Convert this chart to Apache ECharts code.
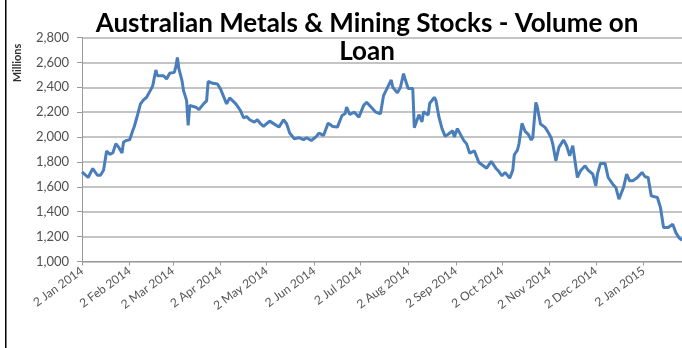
<!DOCTYPE html>
<html>
<head>
<meta charset="utf-8">
<script src="https://cdn.jsdelivr.net/npm/echarts@6/dist/echarts.min.js"></script>
<style>
  html, body { margin: 0; padding: 0; background: #fff; }
  #chart { width: 682px; height: 348px; }
</style>
</head>
<body>
<div id="chart"></div>
<script>
// Shares on loan, Australian metals & mining stocks (millions)
const dates = [
  '2014-01-02','2014-01-03','2014-01-06','2014-01-09','2014-01-12','2014-01-14','2014-01-16','2014-01-18',
  '2014-01-20','2014-01-22','2014-01-24','2014-01-26','2014-01-28','2014-01-29','2014-01-31',
  '2014-02-02','2014-02-04','2014-02-05','2014-02-07','2014-02-09','2014-02-11','2014-02-13','2014-02-16',
  '2014-02-17','2014-02-19','2014-02-20','2014-02-24','2014-02-26','2014-02-28',
  '2014-03-03','2014-03-04','2014-03-05','2014-03-06','2014-03-08','2014-03-09','2014-03-11','2014-03-12',
  '2014-03-13','2014-03-17','2014-03-19','2014-03-22','2014-03-24','2014-03-25','2014-03-28','2014-03-31',
  '2014-04-02','2014-04-06','2014-04-08','2014-04-12','2014-04-15','2014-04-17','2014-04-19','2014-04-21',
  '2014-04-24','2014-04-26','2014-04-28','2014-04-30',
  '2014-05-02','2014-05-04','2014-05-06','2014-05-10','2014-05-13','2014-05-15','2014-05-17','2014-05-20',
  '2014-05-23','2014-05-26','2014-05-28','2014-05-31',
  '2014-06-03','2014-06-05','2014-06-08','2014-06-11','2014-06-14','2014-06-15','2014-06-17','2014-06-20',
  '2014-06-22','2014-06-23','2014-06-25','2014-06-28',
  '2014-07-01','2014-07-04','2014-07-06','2014-07-09','2014-07-12','2014-07-15','2014-07-17','2014-07-19',
  '2014-07-22','2014-07-23','2014-07-26','2014-07-28','2014-07-30','2014-07-31',
  '2014-08-02','2014-08-05','2014-08-06','2014-08-07','2014-08-09','2014-08-11','2014-08-12','2014-08-15',
  '2014-08-16','2014-08-18','2014-08-19','2014-08-20','2014-08-22','2014-08-24','2014-08-26','2014-08-28',
  '2014-08-31',
  '2014-09-01','2014-09-03','2014-09-04','2014-09-07','2014-09-09','2014-09-11','2014-09-14','2014-09-17',
  '2014-09-19','2014-09-22','2014-09-25','2014-09-28','2014-09-30',
  '2014-10-02','2014-10-04','2014-10-07','2014-10-09','2014-10-10','2014-10-12','2014-10-13','2014-10-15',
  '2014-10-17','2014-10-19','2014-10-21','2014-10-22','2014-10-24','2014-10-25','2014-10-27','2014-10-30',
  '2014-11-01','2014-11-03','2014-11-04','2014-11-06','2014-11-08','2014-11-11','2014-11-13','2014-11-15',
  '2014-11-17','2014-11-20','2014-11-22','2014-11-25','2014-11-27','2014-11-30',
  '2014-12-02','2014-12-03','2014-12-05','2014-12-08','2014-12-10','2014-12-13','2014-12-15','2014-12-17',
  '2014-12-20','2014-12-22','2014-12-24','2014-12-26','2014-12-29',
  '2015-01-01','2015-01-03','2015-01-05','2015-01-07','2015-01-08','2015-01-11','2015-01-13','2015-01-15',
  '2015-01-18','2015-01-21','2015-01-23','2015-01-25','2015-01-27'
];
const volumeOnLoan = [
  1720,1707,1675,1747,1693,1693,1733,1888,
  1861,1872,1947,1915,1872,1960,1973,
  1979,2053,2085,2173,2267,2299,2320,2387,
  2413,2539,2493,2493,2467,2512,
  2520,2565,2640,2547,2453,2373,2293,2093,
  2253,2240,2220,2267,2290,2448,2432,2427,
  2387,2267,2315,2267,2213,2155,2165,2139,
  2120,2139,2107,2085,
  2107,2128,2112,2080,2139,2107,2032,1987,
  1995,1979,1995,1973,
  2000,2032,2013,2112,2085,2101,2080,2173,
  2187,2240,2181,2200,
  2160,2253,2280,2240,2200,2187,2333,2383,
  2459,2400,2355,2400,2510,2467,
  2390,2390,2075,2068,2180,2122,2203,2176,
  2270,2302,2320,2297,2162,2068,2007,2023,
  2050,
  2001,2068,2060,1975,1945,1870,1890,1796,
  1777,1750,1804,1750,1723,
  1689,1716,1670,1734,1858,1895,1944,2110,
  2046,2024,1976,1997,2279,2239,2105,2078,
  2038,1992,1944,1809,1917,1976,1930,1850,
  1930,1675,1729,1769,1734,1702,
  1608,1702,1788,1788,1675,1621,1595,1501,
  1595,1702,1648,1648,1675,
  1716,1681,1675,1527,1541,1514,1434,1273,
  1273,1300,1232,1192,1170
];
// Month ticks on the date axis
const tickDates = [
  '2014-01-02','2014-02-02','2014-03-02','2014-04-02','2014-05-02','2014-06-02','2014-07-02',
  '2014-08-02','2014-09-02','2014-10-02','2014-11-02','2014-12-02','2015-01-02'
];
const axisStart = '2014-01-02';
const axisEnd = '2015-01-27';
const yTicks = [1000, 1200, 1400, 1600, 1800, 2000, 2200, 2400, 2600, 2800];
const monthNames = ['Jan','Feb','Mar','Apr','May','Jun','Jul','Aug','Sep','Oct','Nov','Dec'];

const DAY = 86400000;
function toUTC(s) {
  const [y, m, d] = s.split('-').map(Number);
  return Date.UTC(y, m - 1, d);
}
const origin = toUTC(axisStart);
// days elapsed since the first date on the axis
function toDay(s) { return Math.round((toUTC(s) - origin) / DAY); }
function dayLabel(n) {
  const d = new Date(origin + n * DAY);
  return d.getUTCDate() + ' ' + monthNames[d.getUTCMonth()] + ' ' + d.getUTCFullYear();
}

const seriesData = dates.map((d, i) => [toDay(d), volumeOnLoan[i]]);
const tickDays = tickDates.map(toDay);

const chart = echarts.init(document.getElementById('chart'), null, { renderer: 'canvas' });
const labelFont = 'Lato, "Noto Sans", sans-serif';

chart.setOption({
  animation: false,
  backgroundColor: '#ffffff',
  title: {
    text: 'Australian Metals & Mining Stocks - Volume on\nLoan',
    left: 362,
    top: 5,
    textAlign: 'center',
    textStyle: {
      fontFamily: labelFont,
      fontWeight: 'bold',
      fontSize: 26,
      lineHeight: 28,
      color: '#000000'
    }
  },
  grid: { left: 82, right: 0, top: 37.5, bottom: 86.5, containLabel: false },
  xAxis: {
    type: 'value',
    min: 0,
    max: toDay(axisEnd),
    splitLine: { show: false },
    axisLine: { show: true, lineStyle: { color: '#9a9a9a', width: 1 } },
    axisTick: {
      show: true,
      customValues: tickDays,
      length: 4,
      lineStyle: { color: '#9a9a9a' }
    },
    axisLabel: {
      customValues: tickDays,
      rotate: 36,
      margin: 8,
      fontFamily: labelFont,
      fontSize: 12,
      color: '#555555',
      formatter: function (v) { return dayLabel(v); }
    }
  },
  yAxis: {
    type: 'value',
    min: yTicks[0],
    max: yTicks[yTicks.length - 1],
    interval: 200,
    axisLine: { show: true, lineStyle: { color: '#9a9a9a', width: 1 } },
    axisTick: { show: true, length: 5, lineStyle: { color: '#9a9a9a' } },
    splitLine: { show: true, lineStyle: { color: '#b0b0b0', width: 1.5 } },
    axisLabel: {
      margin: 13,
      fontFamily: labelFont,
      fontSize: 13,
      color: '#505050',
      formatter: function (v) { return v.toLocaleString('en-US'); }
    }
  },
  graphic: [
    {
      type: 'rect',
      shape: { x: 5, y: 0, width: 1.5, height: 348 },
      style: { fill: '#000000' },
      silent: true
    },
    {
      type: 'text',
      x: 17,
      y: 63,
      rotation: Math.PI / 2,
      style: {
        text: 'Millions',
        font: 'bold 11px ' + labelFont,
        fill: '#303030',
        align: 'center',
        verticalAlign: 'middle'
      },
      silent: true
    }
  ],
  series: [{
    type: 'line',
    data: seriesData,
    showSymbol: false,
    symbol: 'none',
    lineStyle: { color: '#4a7ebb', width: 3 },
    z: 3
  }]
});
</script>
</body>
</html>
